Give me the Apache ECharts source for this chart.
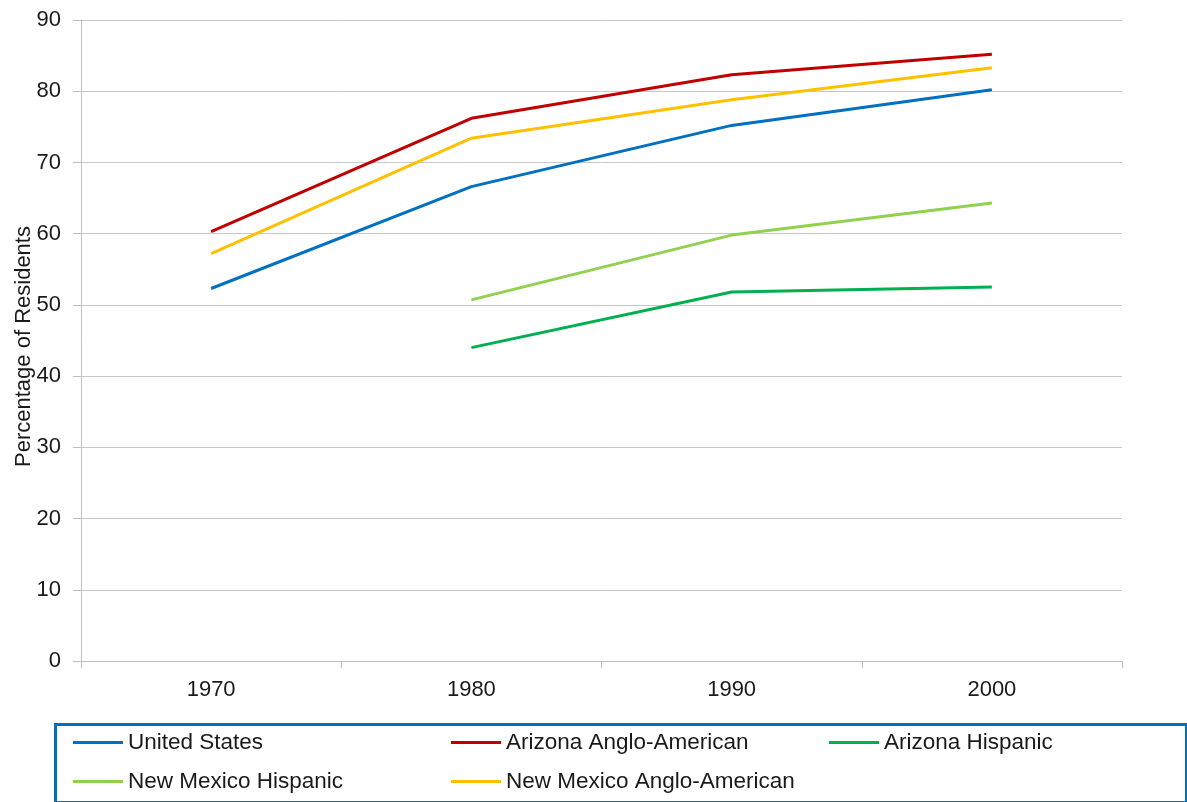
<!DOCTYPE html>
<html><head><meta charset="utf-8">
<script src="https://cdn.jsdelivr.net/npm/echarts@6/dist/echarts.min.js"></script>
<style>html,body{margin:0;padding:0;background:#fff}#c{width:1187px;height:802px}</style>
</head><body><div id="c"></div>
<script>
var years = ['1970','1980','1990','2000'];
var unitedStates = [52.3, 66.6, 75.2, 80.2];
var arizonaAnglo = [60.3, 76.2, 82.3, 85.2];
var arizonaHispanic = [null, 44.0, 51.8, 52.5];
var newMexicoHispanic = [null, 50.7, 59.8, 64.3];
var newMexicoAnglo = [57.2, 73.4, 78.8, 83.3];
var yAxisName = 'Percentage of Residents';

var chart = echarts.init(document.getElementById('c'));
var font = 'Liberation Sans, Arial, sans-serif';
function s(name, data, color) {
  return { name: name, type: 'line', data: data, showSymbol: false, symbol: 'none',
    lineStyle: { width: 3, color: color }, itemStyle: { color: color }, connectNulls: false, animation: false };
}
function lg(name, left, top) {
  return { data: [name], left: left, top: top, padding: 0, orient: 'horizontal',
    itemWidth: 50, itemHeight: 3, icon: 'rect', itemGap: 0,
    textStyle: { fontFamily: font, fontSize: 22.5, color: '#1a1a1a' } };
}
chart.setOption({
  animation: false,
  grid: { left: 81, right: 65, top: 20, bottom: 141, outerBoundsMode: 'none', containLabel: false },
  xAxis: {
    type: 'category', data: years, boundaryGap: true,
    axisLine: { lineStyle: { color: '#bfbfbf', width: 1 } },
    axisTick: { show: true, length: 7, lineStyle: { color: '#bfbfbf' } },
    axisLabel: { fontFamily: font, fontSize: 22, color: '#1a1a1a', margin: 18 }
  },
  yAxis: {
    type: 'value', min: 0, max: 90, interval: 10,
    name: yAxisName, nameLocation: 'middle', nameRotate: 90, nameGap: 46, nameMoveOverlap: false,
    nameTextStyle: { fontFamily: font, fontSize: 22, color: '#1a1a1a', padding: [0, 12, 0, 0] },
    axisLine: { show: true, lineStyle: { color: '#bfbfbf', width: 1 } },
    axisTick: { show: true, inside: false, length: 8, lineStyle: { color: '#bfbfbf' } },
    axisLabel: { fontFamily: font, fontSize: 22, color: '#1a1a1a', margin: 20 },
    splitLine: { lineStyle: { color: '#c8c8c8', width: 1 } }
  },
  legend: [
    lg('United States', 73, 731),
    lg('Arizona Anglo-American', 451, 731),
    lg('Arizona Hispanic', 829, 731),
    lg('New Mexico Hispanic', 73, 770),
    lg('New Mexico Anglo-American', 451, 770)
  ],
  graphic: [{
    type: 'rect', left: 53, top: 722, shape: { width: 1131, height: 78 },
    style: { fill: 'none', stroke: '#0070C0', lineWidth: 3 }, silent: true
  }],
  series: [
    s('United States', unitedStates, '#0070C0'),
    s('Arizona Anglo-American', arizonaAnglo, '#C00000'),
    s('Arizona Hispanic', arizonaHispanic, '#00B050'),
    s('New Mexico Hispanic', newMexicoHispanic, '#92D050'),
    s('New Mexico Anglo-American', newMexicoAnglo, '#FFC000')
  ]
});
</script></body></html>
